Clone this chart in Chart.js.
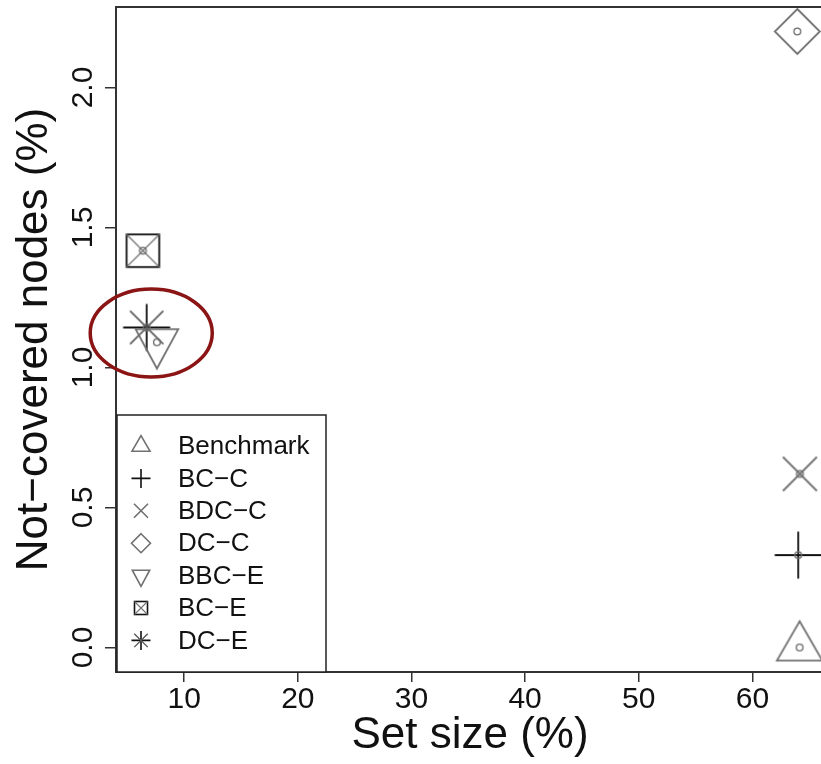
<!DOCTYPE html>
<html>
<head>
<meta charset="utf-8">
<script src="https://cdn.jsdelivr.net/npm/chart.js@4.4.1/dist/chart.umd.min.js"></script>
<style>
  html, body { margin: 0; padding: 0; overflow: hidden; background: #fff; }
  canvas { display: block; }
</style>
</head>
<body>
<canvas id="chart" width="830" height="764"></canvas>
<script>
// values
const methods = ['Benchmark', 'BC−C', 'BDC−C', 'DC−C', 'BBC−E', 'BC−E', 'DC−E'];
const setSize = [64.15, 64.03, 64.18, 63.95, 7.6, 6.37, 6.7];      // x, %
const notCovered = [0.0, 0.33, 0.62, 2.2, 1.09, 1.417, 1.143];     // y, %
const xTicks = [10, 20, 30, 40, 50, 60];
const yTicks = [0, 0.5, 1, 1.5, 2];
const highlight = { x: 7.1, y: 1.123, rx: 5.37, ry: 0.157 };       // red ellipse round the cluster

const FONT = "'Liberation Sans', Arial, Helvetica, sans-serif";
const GRAY = '#707070';
const BLACK = '#111';

// marker drawing, centred on 0,0
const shapes = {
  triUp(ctx, s) {
    const h = s * Math.sqrt(3);
    ctx.beginPath(); ctx.moveTo(0, -2 * h / 3); ctx.lineTo(s, h / 3); ctx.lineTo(-s, h / 3); ctx.closePath(); ctx.stroke();
  },
  triDown(ctx, s) {
    const h = s * 1.85;
    ctx.beginPath(); ctx.moveTo(0, 2 * h / 3); ctx.lineTo(s, -h / 3); ctx.lineTo(-s, -h / 3); ctx.closePath(); ctx.stroke();
  },
  plus(ctx, s) {
    ctx.beginPath(); ctx.moveTo(-s, 0); ctx.lineTo(s, 0); ctx.moveTo(0, -s); ctx.lineTo(0, s); ctx.stroke();
  },
  cross(ctx, s) {
    ctx.beginPath(); ctx.moveTo(-s, -s); ctx.lineTo(s, s); ctx.moveTo(s, -s); ctx.lineTo(-s, s); ctx.stroke();
  },
  diamond(ctx, s) {
    ctx.beginPath(); ctx.moveTo(0, -s); ctx.lineTo(s, 0); ctx.lineTo(0, s); ctx.lineTo(-s, 0); ctx.closePath(); ctx.stroke();
  },
  squareX(ctx, s, lw) {
    ctx.strokeRect(-s, -s, 2 * s, 2 * s);
    ctx.save(); ctx.strokeStyle = GRAY; ctx.lineWidth = lw * 0.7;
    shapes.cross(ctx, s); ctx.restore();
  },
  star(ctx, s, lw) {
    shapes.plus(ctx, s);
    ctx.save(); ctx.strokeStyle = '#555'; ctx.lineWidth = lw * 0.85;
    shapes.cross(ctx, s / Math.SQRT2); ctx.restore();
  }
};

// style per method: [shape, colour, plot size, legend size]
const markerStyle = [
  ['triUp', GRAY, 22.7, 9],
  ['plus', BLACK, 23.5, 9.5],
  ['cross', GRAY, 17, 7],
  ['diamond', GRAY, 22.5, 9.5],
  ['triDown', GRAY, 21.3, 8.7],
  ['squareX', BLACK, 16.3, 6.5],
  ['star', BLACK, 23.5, 9.5]
];

function makeMarker(shape, color, s) {
  const c = document.createElement('canvas');
  const n = Math.ceil(s * 2.6 + 8);
  c.width = n; c.height = n;
  const ctx = c.getContext('2d');
  ctx.translate(n / 2, n / 2);
  ctx.strokeStyle = color;
  ctx.lineWidth = 1.8;
  shapes[shape](ctx, s, 1.8);
  ctx.beginPath(); ctx.arc(0, 0, 3.4, 0, Math.PI * 2);
  ctx.strokeStyle = GRAY; ctx.lineWidth = 1.3; ctx.stroke();
  return c;
}

const datasets = methods.map((m, i) => ({
  label: m,
  data: [{ x: setSize[i], y: notCovered[i] }],
  pointStyle: makeMarker(markerStyle[i][0], markerStyle[i][1], markerStyle[i][2]),
  pointRadius: 20,
  showLine: false
}));

const framePlugin = {
  id: 'frame',
  afterDraw(chart) {
    const { ctx, chartArea: a, scales: { x, y } } = chart;
    ctx.save();
    ctx.strokeStyle = '#333'; ctx.lineWidth = 2;
    ctx.strokeRect(a.left, a.top, a.right - a.left, a.bottom - a.top);

    // legend box, bottom-left inside the plot
    const w = 209, h = 257, left = a.left + 1, top = a.bottom - h;
    ctx.fillStyle = '#fff';
    ctx.fillRect(left, top, w, h);
    ctx.strokeStyle = '#222'; ctx.lineWidth = 1.5;
    ctx.strokeRect(left, top, w, h);
    ctx.font = '26px ' + FONT;
    ctx.textBaseline = 'middle';
    ctx.textAlign = 'left';
    methods.forEach((m, i) => {
      const yy = top + 31 + i * 32.4;
      const st = markerStyle[i];
      ctx.save();
      ctx.translate(left + 24, yy);
      ctx.strokeStyle = st[1]; ctx.lineWidth = 1.6;
      shapes[st[0]](ctx, st[3], 1.6);
      ctx.restore();
      ctx.fillStyle = BLACK;
      ctx.fillText(m, left + 61, yy + 1);
    });

    // highlight ellipse, placed by the scales
    const cx = x.getPixelForValue(highlight.x), cy = y.getPixelForValue(highlight.y);
    const rx = x.getPixelForValue(highlight.x + highlight.rx) - cx;
    const ry = cy - y.getPixelForValue(highlight.y + highlight.ry);
    ctx.beginPath();
    ctx.ellipse(cx, cy, rx, ry, 0, 0, Math.PI * 2);
    ctx.strokeStyle = '#8b1414'; ctx.lineWidth = 3.5;
    ctx.stroke();
    ctx.restore();
  }
};

function noPadding(s) {
  s.paddingTop = 0; s.paddingBottom = 0; s.paddingLeft = 0; s.paddingRight = 0;
}

new Chart(document.getElementById('chart'), {
  type: 'scatter',
  data: { datasets },
  options: {
    responsive: false,
    animation: false,
    events: [],
    layout: { autoPadding: false, padding: { left: 0, top: 7, right: 6, bottom: 0 } },
    plugins: { legend: { display: false }, tooltip: { enabled: false } },
    scales: {
      x: {
        type: 'linear', min: 4.0, max: 66.3,
        afterBuildTicks: s => { s.ticks = xTicks.map(v => ({ value: v })); },
        afterFit: s => { s.height = 92; noPadding(s); },
        grid: { drawOnChartArea: false, drawTicks: true, tickLength: 10, color: '#333', lineWidth: 1.5 },
        border: { display: false },
        ticks: { font: { family: FONT, size: 30 }, color: BLACK, padding: 0, maxRotation: 0 },
        title: { display: true, text: 'Set size (%)', font: { family: FONT, size: 44 }, color: BLACK, padding: { top: 0, bottom: 2 } }
      },
      y: {
        type: 'linear', min: -0.0875, max: 2.2875,
        afterBuildTicks: s => { s.ticks = yTicks.map(v => ({ value: v })); },
        afterFit: s => { s.width = 116; noPadding(s); },
        grid: { drawOnChartArea: false, drawTicks: true, tickLength: 11, color: '#333', lineWidth: 1.5 },
        border: { display: false },
        ticks: { font: { family: FONT, size: 30 }, color: BLACK, padding: 0, minRotation: 90, maxRotation: 90, crossAlign: 'center',
                 callback: v => v.toFixed(1) },
        title: { display: true, text: 'Not−covered nodes (%)', font: { family: FONT, size: 44 }, color: BLACK, padding: { top: 8, bottom: 0 } }
      }
    }
  },
  plugins: [framePlugin]
});
</script>
</body>
</html>
